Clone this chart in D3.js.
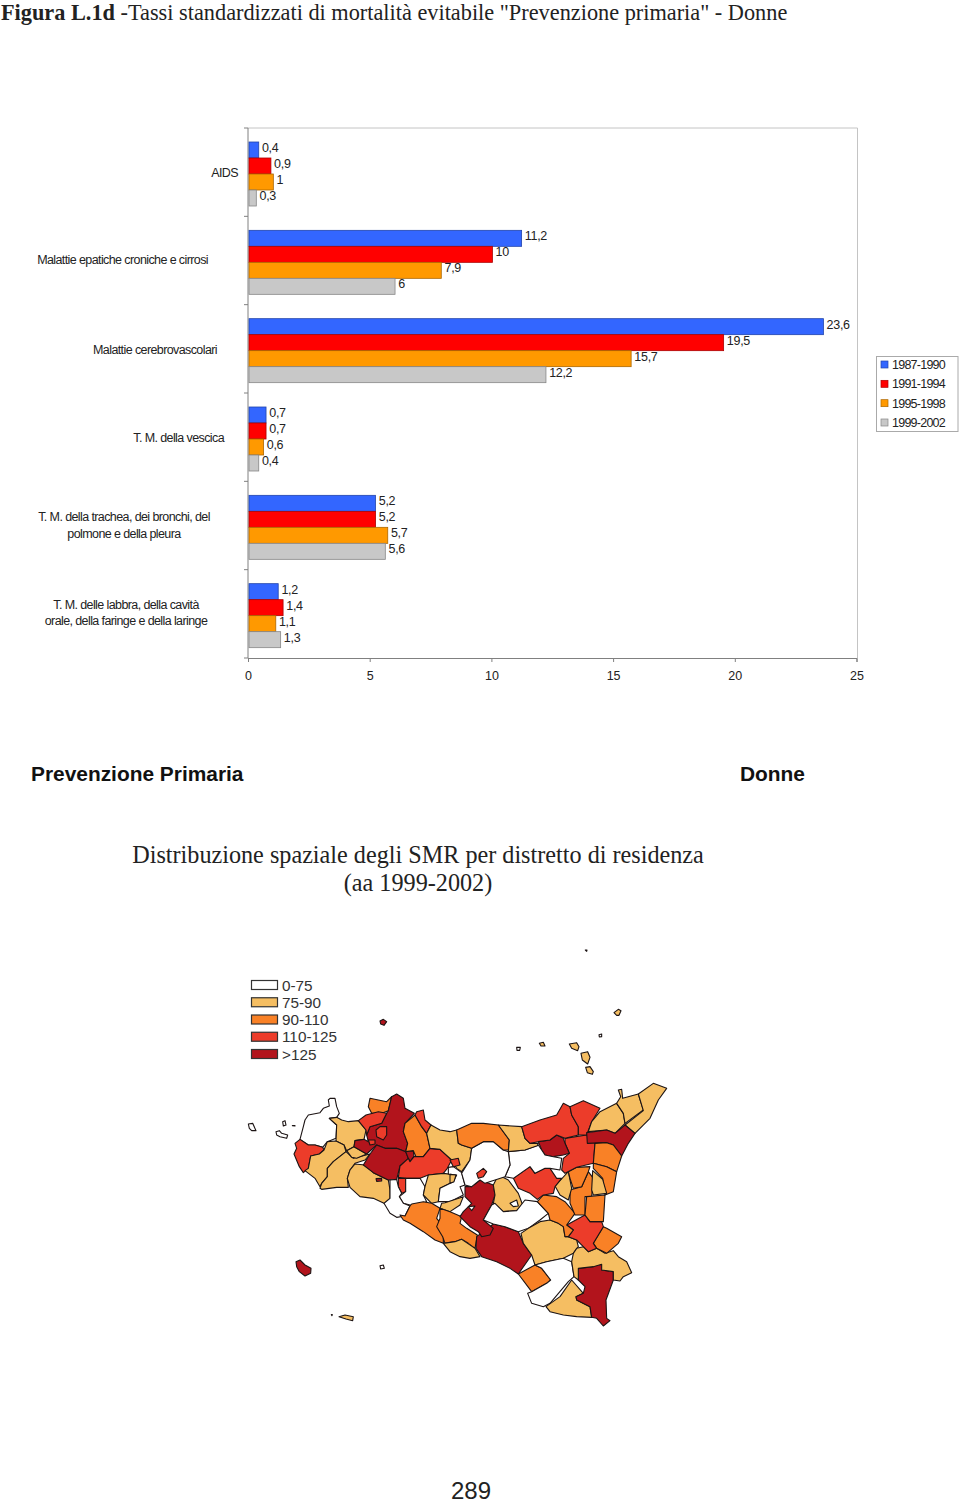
<!DOCTYPE html>
<html><head><meta charset="utf-8">
<script src="https://cdn.jsdelivr.net/npm/d3@7"></script>
<style>html,body{margin:0;padding:0;background:#fff}svg{display:block}</style>
</head><body><div id="c"></div>
<script>
const categories = ["AIDS","Malattie epatiche croniche e cirrosi","Malattie cerebrovascolari","T. M. della vescica","T. M. della trachea, dei bronchi, del|polmone e della pleura","T. M. delle labbra, della cavità|orale, della faringe e della laringe"];
const periods = ["1987-1990","1991-1994","1995-1998","1999-2002"];
const s1987 = [0.4,11.2,23.6,0.7,5.2,1.2];
const s1991 = [0.9,10,19.5,0.7,5.2,1.4];
const s1995 = [1,7.9,15.7,0.6,5.7,1.1];
const s1999 = [0.3,6,12.2,0.4,5.6,1.3];
const seriesValues = [s1987,s1991,s1995,s1999];
const xTicks = [0,5,10,15,20,25];
const barColors = ["#3366FF","#FF0000","#FF9900","#C8C8C8"];
const mapClasses = ["0-75","75-90","90-110","110-125",">125"];
const mapColors = ["#FFFFFF","#F5BE62","#F98126","#EC3C2A","#B2141C"];

// District outlines in map units; class index first. West group.
const westDistricts = [
[0,[[270,55],[285,55],[290,80],[298,100],[290,112],[268,115],[290,135],[288,175],[262,185],[248,202],[225,195],[205,195],[180,178],[190,140],[195,120],[205,105],[240,98],[250,85],[268,78],[265,60]]],
[1,[[268,115],[290,112],[305,120],[325,125],[355,122],[378,150],[372,178],[345,182],[342,200],[320,212],[312,195],[288,183],[290,135]]],
[3,[[180,178],[205,195],[225,195],[248,202],[252,210],[238,222],[212,228],[205,265],[190,278],[178,260],[162,222],[170,205],[165,190]]],
[1,[[212,228],[238,222],[252,210],[262,185],[288,183],[312,195],[318,215],[280,245],[262,265],[262,290],[245,310],[240,320],[225,295],[195,272],[205,265]]],
[1,[[240,325],[245,310],[262,290],[262,265],[280,245],[318,215],[340,235],[390,222],[375,240],[345,250],[330,270],[322,295],[325,322],[290,322],[245,328]]],
[1,[[320,212],[342,200],[380,222],[350,235],[335,232]]],
[1,[[322,295],[330,270],[345,252],[375,255],[400,278],[445,300],[450,330],[450,355],[432,370],[400,355],[360,350],[330,322]]],
[4,[[408,296],[425,295],[425,303],[410,304]]],
[2,[[390,55],[415,60],[440,65],[455,50],[445,92],[425,100],[395,100],[385,80]]],
[4,[[455,50],[470,42],[490,55],[495,85],[523,100],[495,130],[490,155],[503,190],[497,215],[470,205],[435,205],[410,195],[380,222],[342,200],[345,182],[372,178],[385,185],[380,165],[390,140],[425,130],[440,100],[445,92]]],
[4,[[370,255],[390,222],[410,195],[435,205],[470,205],[497,215],[505,235],[480,258],[470,298],[445,300],[400,278]]],
[3,[[355,122],[378,105],[415,95],[440,100],[425,130],[390,140],[380,165],[378,150]]],
[3,[[408,150],[420,140],[440,140],[440,165],[430,180],[410,170]]],
[3,[[385,180],[405,180],[405,192],[390,195]]],
[4,[[497,215],[520,212],[522,230],[510,245],[505,235]]],
[2,[[525,105],[545,140],[560,160],[570,205],[550,230],[530,235],[520,212],[497,215],[503,190],[490,155],[495,130]]],
[3,[[525,105],[530,95],[550,90],[555,120],[573,135],[560,160],[545,140]]],
[3,[[480,258],[505,235],[510,245],[522,230],[550,230],[570,205],[600,208],[635,240],[622,265],[610,280],[565,285],[540,295],[497,295],[475,292]]],
[3,[[475,295],[497,295],[497,335],[485,340],[475,320]]],
[0,[[497,295],[540,295],[555,320],[550,345],[560,365],[530,375],[510,375],[490,370],[478,350],[497,335]]],
[1,[[565,285],[610,280],[650,285],[640,305],[600,325],[595,365],[575,370],[550,345],[555,320]]],
[0,[[450,300],[470,298],[475,320],[485,340],[478,350],[490,370],[510,378],[495,408],[470,412],[450,400],[432,370],[450,355]]],
[2,[[515,372],[550,365],[575,370],[600,385],[590,415],[610,440],[610,490],[585,480],[550,455],[510,430],[490,420],[480,405],[495,408],[510,378]]],
[0,[[25,132],[38,130],[48,152],[35,152],[28,145]]],
[0,[[108,155],[118,152],[125,160],[143,165],[140,175],[120,170],[110,165]]],
[0,[[128,125],[135,122],[138,135],[130,138]]],
[0,[[157,137],[165,137],[165,138]]],
[4,[[168,545],[180,540],[195,555],[213,565],[212,580],[195,588],[178,575],[170,560]]],
[0,[[420,557],[430,555],[433,565],[422,567]]],
[1,[[297,710],[315,705],[340,710],[338,722],[318,717]]],
[0,[[274,704],[277,704],[276,707]]],
[4,[[420,-177],[430,-182],[440,-175],[432,-164],[422,-168]]],
[1,[[988,-108],[1010,-112],[1017,-100],[1013,-88],[995,-95]]],
[1,[[1023,-80],[1043,-85],[1050,-68],[1043,-48],[1027,-60]]],
[1,[[1037,-38],[1050,-40],[1060,-25],[1057,-17],[1042,-22]]],
[1,[[1122,-202],[1135,-212],[1143,-208],[1137,-194],[1130,-194]]],
[1,[[898,-110],[910,-113],[915,-102],[903,-102]]],
[0,[[830,-98],[841,-98],[839,-89],[831,-89]]],
[0,[[1077,-136],[1085,-138],[1085,-130],[1078,-129]]],
[0,[[1036,-390],[1041,-390],[1040,-386]]]
];
// East group, same units shifted by eastShift.
const eastShift = 630;
const eastDistricts = [
[1,[[0,155],[20,150],[25,190],[35,195],[65,205],[60,240],[35,275],[20,265],[5,240],[-30,208],[-60,205],[-70,160],[-57,135],[-30,150]]],
[3,[[0,240],[25,235],[30,255],[10,260]]],
[0,[[-5,262],[10,260],[35,278],[45,315],[30,320],[40,345],[0,365],[-35,365],[-30,325],[10,305],[20,285],[-5,282]]],
[1,[[0,283],[18,285],[12,305],[0,310]]],
[1,[[-25,370],[-15,368],[40,350],[30,375],[0,395],[-30,385]]],
[2,[[-30,385],[0,395],[35,410],[30,430],[50,445],[82,465],[75,505],[55,490],[35,478],[15,485],[-15,490],[-22,470],[-40,440],[-30,415]]],
[1,[[-20,490],[15,485],[35,478],[75,505],[90,530],[60,535],[30,530],[0,515]]],
[4,[[80,470],[130,432],[165,440],[205,455],[220,490],[245,525],[205,582],[180,565],[140,545],[95,530],[78,505]]],
[4,[[45,320],[65,320],[90,300],[130,315],[135,345],[125,375],[100,420],[130,445],[120,465],[95,470],[85,455],[60,440],[30,410],[40,395],[65,370],[45,350]]],
[0,[[55,380],[75,378],[65,392]]],
[1,[[145,285],[175,300],[205,340],[218,375],[200,392],[160,395],[130,370],[135,345],[130,315]]],
[0,[[180,370],[200,360],[205,378],[190,380]]],
[0,[[100,420],[125,375],[135,370],[160,395],[200,392],[225,360],[262,365],[295,400],[270,420],[235,445],[205,455],[165,440],[130,432]]],
[1,[[213,460],[235,445],[270,425],[300,420],[325,430],[340,440],[345,470],[355,470],[380,480],[385,500],[370,520],[340,535],[290,545],[255,555],[245,525],[220,490]]],
[2,[[205,582],[255,555],[275,565],[302,600],[290,610],[245,635]]],
[0,[[255,555],[290,545],[340,535],[365,545],[372,590],[355,605],[300,670],[280,680],[245,670],[233,640],[245,635],[290,610],[302,600],[275,565]]],
[1,[[288,680],[330,650],[365,600],[400,640],[378,650],[380,660],[420,680],[425,712],[380,710],[340,705],[300,695]]],
[4,[[385,565],[430,560],[435,555],[455,553],[455,570],[490,575],[490,600],[468,660],[470,715],[480,722],[460,738],[440,715],[425,712],[420,680],[380,660],[378,650],[400,640],[405,620],[385,600]]],
[1,[[380,505],[400,500],[415,515],[440,505],[465,520],[490,512],[505,530],[530,545],[545,578],[520,590],[510,603],[490,600],[490,575],[455,570],[455,553],[430,560],[385,565],[385,600],[372,590],[365,545],[370,520]]],
[2,[[460,440],[470,445],[515,470],[505,490],[470,520],[440,505],[430,490]]],
[3,[[350,435],[405,405],[420,425],[455,425],[460,440],[430,490],[440,505],[415,515],[400,500],[380,480],[355,470],[370,450]]],
[2,[[262,365],[280,345],[320,350],[345,365],[375,400],[350,435],[370,450],[355,470],[345,470],[340,440],[325,430],[300,420],[295,400]]],
[2,[[360,330],[395,320],[415,275],[430,295],[425,350],[405,350],[405,405],[375,405],[360,370]]],
[2,[[410,350],[465,345],[460,425],[420,425],[405,405]]],
[1,[[315,318],[355,275],[365,325],[355,360],[330,345]]],
[3,[[190,295],[240,260],[255,280],[285,265],[300,265],[320,295],[335,295],[315,320],[310,340],[280,345],[262,358],[240,340],[205,325]]],
[2,[[355,275],[380,262],[420,260],[415,275],[395,320],[370,325],[360,295]]],
[3,[[345,175],[410,165],[435,190],[430,250],[380,262],[345,280],[335,270],[340,235],[358,220],[345,190]]],
[4,[[265,185],[300,180],[320,165],[340,175],[345,190],[358,220],[340,225],[310,230],[285,225],[275,210]]],
[0,[[175,215],[225,210],[265,195],[275,210],[285,225],[310,230],[335,235],[330,270],[300,265],[285,265],[255,280],[240,260],[190,295],[165,290],[180,255]]],
[0,[[65,205],[100,185],[130,185],[160,210],[175,215],[180,255],[165,290],[135,300],[105,310],[90,300],[65,320],[45,315],[35,280],[60,240]]],
[3,[[80,280],[100,265],[110,275],[100,290],[85,295]]],
[2,[[20,150],[65,130],[100,130],[145,135],[178,180],[175,210],[160,210],[130,185],[100,185],[65,205],[35,195],[25,190]]],
[1,[[145,135],[215,140],[225,175],[240,190],[265,190],[262,197],[225,210],[175,215],[178,180]]],
[3,[[215,140],[270,120],[320,105],[340,70],[360,80],[365,105],[385,140],[385,165],[345,175],[320,165],[300,180],[265,185],[240,190],[225,175]]],
[3,[[360,80],[400,62],[450,85],[425,125],[410,165],[385,165],[385,140],[365,105]]],
[1,[[425,125],[450,95],[500,70],[520,100],[525,130],[495,160],[470,150],[415,155]]],
[1,[[500,70],[512,50],[505,30],[515,28],[518,55],[565,42],[580,90],[525,130],[520,100]]],
[1,[[565,42],[610,10],[650,25],[625,60],[600,115],[555,160],[525,135],[580,92]]],
[4,[[410,158],[470,150],[495,160],[525,135],[555,160],[535,190],[515,228],[490,195],[470,188],[412,190]]],
[2,[[435,190],[470,188],[490,195],[515,228],[500,275],[470,260],[430,250]]],
[2,[[430,250],[470,260],[500,275],[490,335],[465,345],[458,295],[430,265]]],
[1,[[428,272],[458,298],[470,340],[430,345],[425,330]]]
];

const W=960,H=1506;
const svg=d3.select("#c").append("svg").attr("width",W).attr("height",H).attr("viewBox",`0 0 ${W} ${H}`);
const SANS="'Liberation Sans',Arial,sans-serif", SERIF="'Liberation Serif','Times New Roman',serif";

// header text
const title=svg.append("text").attr("x",1).attr("y",20).attr("font-family",SERIF).attr("font-size",22.3).attr("fill","#222");
title.append("tspan").attr("font-weight","bold").text("Figura L.1d");
title.append("tspan").text(' -Tassi standardizzati di mortalità evitabile "Prevenzione primaria" - Donne');

// bar chart
const x=d3.scaleLinear().domain([0,25]).range([248,856.5]);
const y=d3.scaleBand().domain(categories).range([128,658]);
const yInner=d3.scaleBand().domain(periods).range([14,78]);
const chart=svg.append("g");
chart.append("path").attr("d",d3.line()([[x(0),128],[857.5,128],[857.5,658]])).attr("fill","none").attr("stroke","#c4c4c4").attr("stroke-width",1);
const axB=chart.append("g").attr("transform","translate(0,658)").call(d3.axisBottom(x).tickValues(xTicks).tickSize(4).tickPadding(9).tickFormat(d3.format("d")));
axB.selectAll("path,line").attr("stroke","#808080");
axB.selectAll("text").attr("font-family",SANS).attr("font-size",12.5).attr("fill","#222");
const axL=chart.append("g").attr("transform",`translate(${x(0)},0)`);
axL.append("line").attr("y1",128).attr("y2",658).attr("stroke","#808080");
axL.selectAll("line.t").data(d3.range(categories.length+1)).join("line").attr("class","t")
  .attr("x1",-4).attr("x2",0).attr("y1",i=>128+i*y.step()).attr("y2",i=>128+i*y.step()).attr("stroke","#808080");
const labelRight=[238,208,217,224,null,null];
const labelDy=[1,-1,1,1,0,-1];
categories.forEach((c,i)=>{
  const lines=c.split("|"), yc=y(c)+y.bandwidth()/2+labelDy[i];
  const t=chart.append("text").attr("font-family",SANS).attr("font-size",12.5).attr("letter-spacing",-0.6).attr("fill","#222");
  if(lines.length===1){t.attr("x",labelRight[i]).attr("y",yc+4).attr("text-anchor","end").text(c);}
  else lines.forEach((l,k)=>t.append("tspan").attr("x",i===4?124:126).attr("text-anchor","middle").attr("y",yc+(k-0.5)*(i===4?17.5:16)+4).text(l));
});
periods.forEach((p,k)=>{
  const vals=seriesValues[k];
  chart.append("g").selectAll("rect").data(categories).join("rect")
    .attr("x",x(0)+1).attr("y",c=>y(c)+yInner(p)).attr("height",yInner.bandwidth())
    .attr("width",(c,i)=>x(vals[i])-x(0)).attr("fill",barColors[k]).attr("stroke",d3.color(barColors[k]).darker(1.1)).attr("stroke-width",.8);
  chart.append("g").selectAll("text").data(categories).join("text")
    .attr("x",(c,i)=>x(vals[i])+4.2).attr("y",c=>y(c)+yInner(p)+yInner.bandwidth()/2+2)
    .attr("font-family",SANS).attr("font-size",12.5).attr("letter-spacing",-0.3).attr("fill","#222")
    .text((c,i)=>String(vals[i]).replace(".",","));
});
// bar legend
const lg=svg.append("g");
lg.append("rect").attr("x",876.5).attr("y",356.5).attr("width",81.5).attr("height",75).attr("fill","#fff").attr("stroke","#aaa");
const lgY=d3.scalePoint().domain(periods).range([364.5,422.5]);
periods.forEach((p,k)=>{
  lg.append("rect").attr("x",881).attr("y",lgY(p)-3.5).attr("width",7).attr("height",7).attr("fill",barColors[k]).attr("stroke",d3.color(barColors[k]).darker(1.1)).attr("stroke-width",.7);
  lg.append("text").attr("x",892).attr("y",lgY(p)+4.5).attr("font-family",SANS).attr("font-size",12.5).attr("letter-spacing",-0.75).attr("fill","#222").text(p);
});

// middle headings
svg.append("text").attr("x",31).attr("y",781).attr("font-family",SANS).attr("font-weight","bold").attr("font-size",20.9).attr("fill","#111").text("Prevenzione Primaria");
svg.append("text").attr("x",740).attr("y",781).attr("font-family",SANS).attr("font-weight","bold").attr("font-size",20.9).attr("fill","#111").text("Donne");
svg.append("text").attr("x",418).attr("y",863).attr("text-anchor","middle").attr("font-family",SERIF).attr("font-size",24.2).attr("fill","#222").text("Distribuzione spaziale degli SMR per distretto di residenza");
svg.append("text").attr("x",418).attr("y",891).attr("text-anchor","middle").attr("font-family",SERIF).attr("font-size",24.2).attr("fill","#222").text("(aa 1999-2002)");

// map
const mx=d3.scaleLinear().domain([0,660]).range([240,460]);
const my=d3.scaleLinear().domain([0,750]).range([1080,1330]);
const line=d3.line().x(d=>mx(d[0])).y(d=>my(d[1])).curve(d3.curveLinearClosed);
const all=westDistricts.concat(eastDistricts.map(([c,p])=>[c,p.map(q=>[q[0]+eastShift,q[1]])]));
svg.append("g").selectAll("path").data(all).join("path").attr("d",d=>line(d[1])).attr("fill",d=>mapColors[d[0]]).attr("stroke","#1c1414").attr("stroke-width",1.1).attr("stroke-linejoin","round");
// map legend
const ml=svg.append("g");
const mlY=d3.scalePoint().domain(mapClasses).range([985,1054]);
mapClasses.forEach((c,k)=>{
  ml.append("rect").attr("x",251.5).attr("y",mlY(c)-4.5).attr("width",26).attr("height",9).attr("fill",mapColors[k]).attr("stroke","#333").attr("stroke-width",1.2);
  ml.append("text").attr("x",282).attr("y",mlY(c)+5.5).attr("font-family",SANS).attr("font-size",15.3).attr("fill","#333").text(c);
});
svg.append("text").attr("x",471).attr("y",1499).attr("text-anchor","middle").attr("font-family",SANS).attr("font-size",24).attr("fill","#222").text("289");
</script></body></html>
